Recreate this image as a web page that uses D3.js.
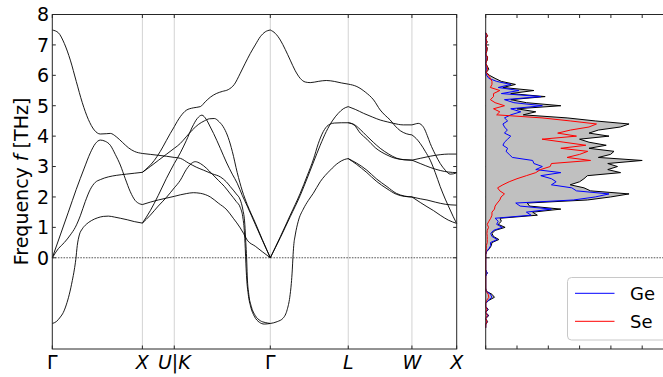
<!DOCTYPE html>
<html><head><meta charset="utf-8">
<script src="https://cdn.jsdelivr.net/npm/d3@7"></script>
<style>html,body{margin:0;padding:0;background:#fff;}svg{display:block;font-family:"DejaVu Sans",sans-serif;}</style>
</head><body><svg id="c" width="663" height="377"></svg>
<script>
// ---- data ----
const kTicks = [0, 1.0, 1.354, 2.420, 3.285, 3.992, 4.489];
const kLabels = ["Γ", "X", "U|K", "Γ", "L", "W", "X"];
const kItalic = [false, true, true, false, true, true, true];
const freqTicks = [0, 1, 2, 3, 4, 5, 6, 7, 8];
const dosTicks = [0, 1, 2, 3, 4, 5];
const legendNames = ["Ge", "Se"];

const band1 = [[0,7.49],[0.067,7.4],[0.133,7.05],[0.200,6.5],[0.266,5.8],[0.333,5.1],[0.400,4.55],[0.466,4.2],[0.533,4.07],[0.599,4.08],[0.644,4.09],[0.710,3.98],[0.777,3.8],[0.844,3.62],[0.910,3.5],[1.0,3.43],
 [1.088,3.4],[1.176,3.37],[1.265,3.34],[1.354,3.3],
 [1.421,3.27],[1.509,3.12],[1.598,2.98],[1.679,2.88],[1.776,2.76],[1.865,2.66],[1.931,2.5],[1.976,2.34],[2.042,2.1],[2.087,1.9],[2.114,1.6],[2.137,1.1],[2.148,0.5],[2.157,0],[2.164,-0.6],[2.181,-1.2],[2.209,-1.6],[2.253,-1.9],[2.309,-2.07],[2.364,-2.13],[2.420,-2.16],
 [2.497,-2.1],[2.564,-1.98],[2.608,-1.7],[2.636,-1.3],[2.653,-0.85],[2.664,-0.4],[2.671,0],[2.680,0.4],[2.697,0.75],[2.730,1.2],[2.786,1.6],[2.841,1.88],[2.897,2.12],[2.974,2.5],[3.085,2.88],[3.174,3.12],[3.241,3.23],[3.285,3.26],
 [3.374,3.12],[3.492,2.88],[3.596,2.6],[3.715,2.34],[3.818,2.12],[3.907,2.03],[3.992,2.0],
 [4.084,1.94],[4.159,1.9],[4.251,1.83],[4.362,1.76],[4.489,1.73]];

const band2 = [[0,0],[0.067,0.3],[0.133,0.5],[0.200,0.75],[0.255,1.0],[0.311,1.38],[0.366,1.85],[0.422,2.25],[0.477,2.48],[0.533,2.57],[0.622,2.66],[0.710,2.71],[0.821,2.75],[0.910,2.78],[1.0,2.81],
 [1.065,2.98],[1.132,3.2],[1.199,3.5],[1.265,3.85],[1.310,4.09],[1.354,4.31],
 [1.421,4.64],[1.487,4.85],[1.565,4.93],[1.643,4.97],[1.698,5.13],[1.754,5.28],[1.820,5.4],[1.887,5.47],[1.953,5.53],[2.020,5.7],[2.087,6.07],[2.142,6.4],[2.198,6.72],[2.253,7.0],[2.309,7.27],[2.364,7.43],[2.420,7.49],
 [2.475,7.38],[2.531,7.16],[2.586,6.85],[2.641,6.5],[2.697,6.15],[2.752,5.9],[2.808,5.78],[2.863,5.76],[2.952,5.8],[3.041,5.83],[3.130,5.8],[3.208,5.75],[3.285,5.71],
 [3.381,5.63],[3.474,5.45],[3.567,5.19],[3.640,4.86],[3.696,4.68],[3.751,4.53],[3.807,4.33],[3.862,4.18],[3.929,4.08],[3.992,4.04],
 [4.040,3.92],[4.084,3.76],[4.140,3.5],[4.195,3.21],[4.251,2.8],[4.306,2.34],[4.362,1.93],[4.417,1.57],[4.451,1.35],[4.489,1.13]];

const band3 = [[0,0],[0.067,0.3],[0.133,0.5],[0.200,0.75],[0.255,1.0],[0.311,1.38],[0.366,1.85],[0.422,2.25],[0.477,2.48],[0.533,2.57],[0.622,2.66],[0.710,2.71],[0.821,2.75],[0.910,2.78],[1.0,2.81],
 [1.088,3.0],[1.176,3.2],[1.265,3.4],[1.354,3.6],
 [1.421,3.76],[1.487,3.98],[1.554,4.2],[1.620,4.38],[1.687,4.5],[1.743,4.57],[1.798,4.58],[1.853,4.47],[1.909,4.25],[1.953,3.95],[1.998,3.5],[2.053,2.8],[2.109,2.2],[2.164,1.75],[2.253,1.15],[2.331,0.6],[2.420,0],
 [2.531,0.66],[2.641,1.35],[2.752,2.05],[2.830,2.62],[2.900,3.15],[2.974,3.7],[3.041,4.15],[3.108,4.5],[3.174,4.75],[3.230,4.9],[3.285,4.97],
 [3.363,4.88],[3.455,4.75],[3.552,4.63],[3.640,4.53],[3.718,4.47],[3.788,4.42],[3.896,4.37],[3.992,4.37],
 [4.029,4.4],[4.062,4.42],[4.095,4.38],[4.129,4.25],[4.162,4.02],[4.195,3.76],[4.251,3.4],[4.306,3.1],[4.362,2.88],[4.417,2.75],[4.451,2.76],[4.489,2.8]];

const band4 = [[0,0],[0.089,0.75],[0.178,1.5],[0.266,2.25],[0.355,2.95],[0.422,3.45],[0.477,3.75],[0.533,3.87],[0.588,3.83],[0.644,3.7],[0.699,3.4],[0.755,3.05],[0.810,2.6],[0.866,2.17],[0.921,1.88],[0.966,1.78],[1.0,1.75],
 [1.088,1.83],[1.176,1.9],[1.265,1.96],[1.354,2.02],
 [1.421,2.07],[1.487,2.11],[1.565,2.14],[1.643,2.12],[1.754,2.0],[1.842,1.8],[1.939,1.57],[2.009,1.3],[2.087,0.98],[2.123,0.8],[2.164,0.58],[2.253,0.38],[2.331,0.2],[2.420,0],
 [2.531,0.69],[2.641,1.4],[2.752,2.12],[2.830,2.7],[2.900,3.25],[2.952,3.75],[3.008,4.15],[3.063,4.36],[3.130,4.43],[3.208,4.44],[3.285,4.44],
 [3.352,4.38],[3.418,4.22],[3.485,4.02],[3.563,3.8],[3.640,3.6],[3.729,3.42],[3.818,3.28],[3.907,3.22],[3.992,3.21],
 [4.084,3.27],[4.195,3.34],[4.306,3.39],[4.395,3.41],[4.489,3.41]];

const band5 = [[0,-2.16],[0.044,-2.1],[0.089,-1.95],[0.122,-1.8],[0.155,-1.55],[0.189,-1.2],[0.222,-0.75],[0.244,-0.4],[0.261,-0.05],[0.277,0.4],[0.300,0.75],[0.333,0.95],[0.377,1.1],[0.433,1.22],[0.499,1.31],[0.566,1.36],[0.622,1.37],[0.688,1.34],[0.755,1.3],[0.832,1.25],[0.910,1.19],[1.0,1.14],
 [1.088,1.4],[1.176,1.7],[1.265,1.98],[1.354,2.3],
 [1.421,2.55],[1.487,2.9],[1.543,3.1],[1.587,3.16],[1.643,3.1],[1.709,2.95],[1.776,2.75],[1.842,2.55],[1.909,2.35],[1.976,2.1],[2.042,1.85],[2.087,1.65],[2.114,1.35],[2.131,0.9],[2.142,0.3],[2.149,-0.2],[2.158,-0.7],[2.175,-1.2],[2.203,-1.62],[2.242,-1.92],[2.298,-2.12],[2.353,-2.18],[2.420,-2.16],
 [2.497,-2.1],[2.564,-1.98],[2.608,-1.7],[2.636,-1.3],[2.653,-0.85],[2.664,-0.4],[2.671,0],[2.680,0.4],[2.697,0.75],[2.730,1.2],[2.786,1.6],[2.841,1.88],[2.897,2.12],[2.974,2.5],[3.085,2.88],[3.174,3.12],[3.241,3.23],[3.285,3.26],
 [3.374,3.08],[3.492,2.8],[3.596,2.52],[3.715,2.27],[3.818,2.09],[3.907,2.02],[3.992,2.0],
 [4.084,1.82],[4.159,1.68],[4.232,1.55],[4.306,1.4],[4.395,1.24],[4.489,1.13]];

const band6 = [[0,-2.16],[0.044,-2.1],[0.089,-1.95],[0.122,-1.8],[0.155,-1.55],[0.189,-1.2],[0.222,-0.75],[0.244,-0.4],[0.261,-0.05],[0.277,0.4],[0.300,0.75],[0.333,0.95],[0.377,1.1],[0.433,1.22],[0.499,1.31],[0.566,1.36],[0.622,1.37],[0.688,1.34],[0.755,1.3],[0.832,1.25],[0.910,1.19],[1.0,1.14],
 [1.088,1.55],[1.176,2.05],[1.265,2.6],[1.354,3.1],
 [1.421,3.45],[1.487,3.85],[1.554,4.3],[1.609,4.58],[1.661,4.69],[1.709,4.55],[1.754,4.3],[1.790,4.09],[1.865,3.6],[1.931,3.15],[1.998,2.75],[2.053,2.45],[2.109,2.05],[2.164,1.7],[2.253,1.1],[2.331,0.58],[2.420,0],
 [2.531,0.69],[2.641,1.4],[2.752,2.12],[2.830,2.7],[2.900,3.25],[2.952,3.75],[3.008,4.15],[3.063,4.36],[3.130,4.43],[3.208,4.44],[3.285,4.44],
 [3.352,4.36],[3.418,4.1],[3.492,3.9],[3.585,3.62],[3.715,3.38],[3.807,3.27],[3.896,3.23],[3.992,3.21],
 [4.084,3.1],[4.195,2.97],[4.306,2.87],[4.395,2.82],[4.489,2.8]];

const dosFreq = [-2.3,-2.2,-2.1,-2.0,-1.9,-1.8,-1.7,-1.6,-1.5,-1.4,
 -1.3,-1.2,-1.1,-1.0,-0.9,-0.8,-0.7,-0.6,-0.5,-0.4,
 -0.3,-0.2,-0.1,0.0,0.1,0.2,0.3,0.4,0.5,0.6,
 0.7,0.8,0.9,1.0,1.1,1.2,1.3,1.4,1.5,1.6,
 1.7,1.8,1.9,2.0,2.1,2.2,2.3,2.4,2.5,2.6,
 2.7,2.8,2.9,3.0,3.1,3.2,3.3,3.4,3.5,3.6,
 3.7,3.8,3.9,4.0,4.1,4.2,4.3,4.4,4.5,4.6,
 4.7,4.8,4.9,5.0,5.1,5.2,5.3,5.4,5.5,5.6,
 5.7,5.8,5.9,6.0,6.1,6.2,6.3,6.4,6.5,6.6,
 6.7,6.8,6.9,7.0,7.1,7.2,7.3,7.4];
const dosTotal = [0,0,0.06,0,0.1,0,0.08,0,0,0.1,
 0.28,0.2,0.02,0,0,0,0,0,0.05,0,
 0,0,0,0,0,0.03,0.12,0.18,0.2,0.42,
 0.25,0.2,0.3,0.62,0.4,0.5,0.46,1.65,1.5,2.4,
 1.4,1.33,3.25,3.99,4.58,3.35,3.14,2.7,3.0,3.14,
 3.25,4.31,3.9,4.21,3.9,5.0,3.6,3.99,4.1,3.3,
 3.85,3.3,3.0,3.94,3.3,3.6,4.3,4.58,3.5,2.6,
 1.2,1.6,1.0,2.4,1.3,0.8,1.9,0.8,1.54,0.55,
 0.95,0.5,0.3,0.12,0.02,0.1,0.05,0,0.05,0.06,
 0,0.04,0.05,0,0.05,0,0.06,0];
const dosGe = [0,0,0.04,0,0.07,0,0.06,0,0,0.08,
 0.2,0.15,0.01,0,0,0,0,0,0.05,0,
 0,0,0,0,0,0.02,0.1,0.16,0.15,0.37,
 0.2,0.16,0.25,0.53,0.35,0.4,0.3,1.45,1.3,2.1,
 1.1,0.96,2.8,3.5,3.94,2.9,2.75,2.1,2.25,2.1,
 1.76,2.4,1.6,1.81,1.54,1.5,0.85,0.75,0.65,0.7,
 0.55,0.6,0.7,0.8,0.6,0.69,0.6,0.55,0.7,0.6,
 0.8,1.12,0.8,1.81,0.9,0.6,1.76,0.5,1.06,0.4,
 0.8,0.35,0.1,0.03,0,0.02,0.01,0,0.01,0.01,
 0,0.01,0.01,0,0.01,0,0.01,0];
const dosSe = [0,0,0.04,0,0.05,0,0.04,0,0,0.03,
 0.1,0.08,0.01,0,0,0,0,0,0,0,
 0,0,0,0,0,0.01,0.02,0.02,0.05,0.05,
 0.05,0.04,0.05,0.09,0.05,0.1,0.16,0.2,0.2,0.28,
 0.3,0.37,0.45,0.49,0.6,0.45,0.38,0.55,0.75,1.0,
 1.3,1.6,1.75,2.06,2.1,3.35,2.6,3.0,3.26,2.4,
 3.2,2.5,1.8,2.9,2.3,2.71,3.3,3.54,2.7,1.8,
 0.35,0.45,0.25,0.6,0.3,0.15,0.25,0.25,0.45,0.15,
 0.2,0.2,0.15,0.08,0.02,0.06,0.04,0,0.04,0.05,
 0,0.03,0.04,0,0.04,0,0.05,0];

// ---- drawing ----
const svg = d3.select("#c");
svg.append("rect").attr("width",663).attr("height",377).attr("fill","#fff");
const L = {x0:52.3, x1:456.7, y0:14.5, y1:349};
const R = {x0:485.7, x1:673.5};
const x = d3.scaleLinear().domain([0, kTicks[kTicks.length-1]]).range([L.x0, L.x1]);
const y = d3.scaleLinear().domain([-3, 8]).range([L.y1, L.y0]);
const xd = d3.scaleLinear().domain([0, 6]).range([R.x0, R.x1]);
const frameCol = "#262626";
const FS = 19;

// grid lines
svg.append("g").selectAll("line").data(kTicks.slice(1,-1)).join("line")
  .attr("x1",d=>x(d)).attr("x2",d=>x(d)).attr("y1",L.y0).attr("y2",L.y1)
  .attr("stroke","#d3d3d3").attr("stroke-width",1);
// zero lines
[[L.x0,L.x1],[R.x0,663]].forEach(([a,b])=>{
  svg.append("line").attr("x1",a).attr("x2",b).attr("y1",y(0)).attr("y2",y(0))
    .attr("stroke","#555").attr("stroke-width",1).attr("stroke-dasharray","1.6,1.2");
});

// bands (degenerate duplicates drawn once)
const line = d3.line().x(d=>x(d[0])).y(d=>y(d[1])).curve(d3.curveMonotoneX);
const gb = svg.append("g");
const drawn = new Set();
[band1,band2,band3,band4,band5,band6].forEach(b=>{
  for(let s=0;s<kTicks.length-1;s++){
    const seg = b.filter(p=>p[0]>=kTicks[s]-1e-6 && p[0]<=kTicks[s+1]+1e-6);
    const d = line(seg);
    if (drawn.has(d)) continue;
    drawn.add(d);
    gb.append("path").attr("d",d).attr("fill","none")
      .attr("stroke","#000").attr("stroke-width",0.9);
  }
});

// left frame
svg.append("rect").attr("x",L.x0).attr("y",L.y0).attr("width",L.x1-L.x0).attr("height",L.y1-L.y0)
  .attr("fill","none").attr("stroke",frameCol).attr("stroke-width",1);
const tl = 3.5;
const gt = svg.append("g").attr("stroke",frameCol).attr("stroke-width",1);
freqTicks.forEach(f=>{
  gt.append("line").attr("x1",L.x0).attr("x2",L.x0+tl).attr("y1",y(f)).attr("y2",y(f));
  gt.append("line").attr("x1",L.x1).attr("x2",L.x1-tl).attr("y1",y(f)).attr("y2",y(f));
  gt.append("line").attr("x1",R.x0).attr("x2",R.x0+tl).attr("y1",y(f)).attr("y2",y(f));
});
kTicks.forEach(k=>{
  gt.append("line").attr("x1",x(k)).attr("x2",x(k)).attr("y1",L.y0).attr("y2",L.y0+tl);
  gt.append("line").attr("x1",x(k)).attr("x2",x(k)).attr("y1",L.y1).attr("y2",L.y1-tl);
});
// y tick labels
svg.append("g").selectAll("text").data(freqTicks).join("text")
  .attr("x",49).attr("y",d=>y(d)+6.8).attr("text-anchor","end")
  .attr("font-size",FS).attr("fill","#000").text(d=>d);
// x tick labels
svg.append("g").selectAll("text").data(kTicks).join("text")
  .attr("x",(d)=>x(d)).attr("y",368.5).attr("text-anchor","middle")
  .attr("font-size",FS).attr("fill","#000")
  .attr("font-style",(d,i)=>kItalic[i]?"italic":"normal")
  .text((d,i)=>kLabels[i]);
// y axis label
const yl = svg.append("text").attr("transform","translate(27.5,181.5) rotate(-90)")
  .attr("text-anchor","middle").attr("font-size",FS).attr("fill","#000");
yl.append("tspan").text("Frequency ");
yl.append("tspan").attr("font-style","italic").text("f");
yl.append("tspan").text(" [THz]");

// ---- DOS ----
const dosData = dosFreq.map((f,i)=>({f, t:dosTotal[i], ge:dosGe[i], se:dosSe[i]}));
const gd = svg.append("g");
gd.append("path").datum(dosData)
  .attr("d", d3.area().y(d=>y(d.f)).x0(xd(0)).x1(d=>xd(d.t)))
  .attr("fill","#c0c0c0").attr("stroke","none");
const lineD = key => d3.line().y(d=>y(d.f)).x(d=>xd(d[key]));
gd.append("path").datum(dosData).attr("d",lineD("t")).attr("fill","none").attr("stroke","#000").attr("stroke-width",1);
gd.append("path").datum(dosData).attr("d",lineD("ge")).attr("fill","none").attr("stroke","#0000ff").attr("stroke-width",1);
gd.append("path").datum(dosData).attr("d",lineD("se")).attr("fill","none").attr("stroke","#ff0000").attr("stroke-width",1);

// right frame
svg.append("rect").attr("x",R.x0).attr("y",L.y0).attr("width",R.x1-R.x0).attr("height",L.y1-L.y0)
  .attr("fill","none").attr("stroke",frameCol).attr("stroke-width",1);
dosTicks.forEach(v=>{
  gt.append("line").attr("x1",xd(v)).attr("x2",xd(v)).attr("y1",L.y0).attr("y2",L.y0+tl);
  gt.append("line").attr("x1",xd(v)).attr("x2",xd(v)).attr("y1",L.y1).attr("y2",L.y1-tl);
});

// legend
const lg = svg.append("g");
lg.append("rect").attr("x",567.5).attr("y",277.5).attr("width",120).attr("height",62.5).attr("rx",4)
  .attr("fill","#fff").attr("fill-opacity",0.85).attr("stroke","#c8c8c8").attr("stroke-width",1);
const legCols = ["#0000ff","#ff0000"];
legendNames.forEach((n,i)=>{
  const yy = 293.3 + i*28;
  lg.append("line").attr("x1",575).attr("x2",614.5).attr("y1",yy).attr("y2",yy).attr("stroke",legCols[i]).attr("stroke-width",1);
  lg.append("text").attr("x",630).attr("y",yy+6.5).attr("font-size",18).attr("fill","#000").text(n);
});
</script></body></html>
